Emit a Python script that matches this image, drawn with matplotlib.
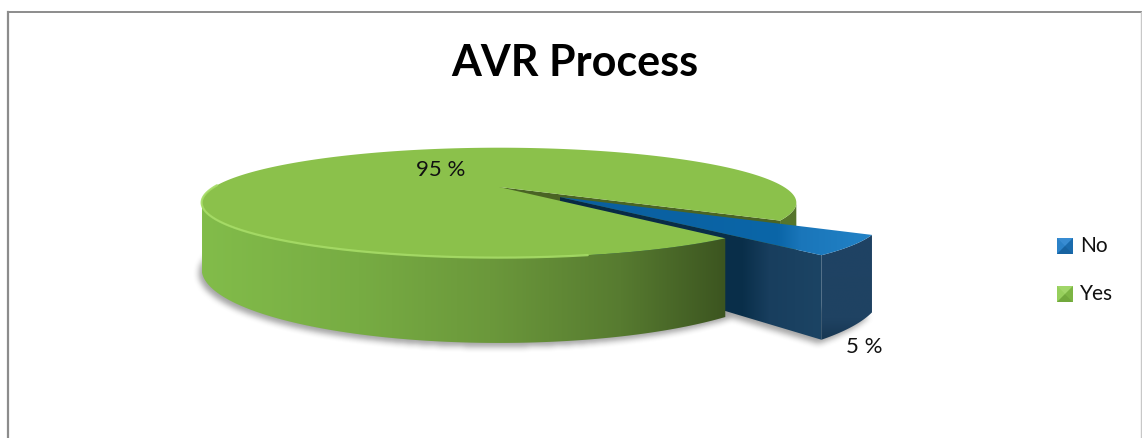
import numpy as np
import matplotlib
matplotlib.use('Agg')
import matplotlib.pyplot as plt
from matplotlib.patches import Polygon
from matplotlib.path import Path
from matplotlib.colors import to_rgb

labels = ['No', 'Yes']
values = [5, 95]
pct_labels = ['5 %', '95 %']
title = 'AVR Process'

W, HT = 1142, 438
plt.rcParams['font.family'] = ['Lato', 'DejaVu Sans']

fig = plt.figure(figsize=(W / 100, HT / 100), dpi=100)
ax = fig.add_axes([0, 0, 1, 1])

# pie geometry (pixel space, perspective tilt)
CX, CY = 499.0, 187.0
R, A, B = 285.0, 50.5, 0.285
DEPTH = 61.0
START = 34.0
EXPLODE = [0.275, 0.0]
T_EXT = np.degrees(np.arcsin(B))   # angle of the widest point of the rim


def proj(X, Y, d=0.0):
    w = 1.0 - B * Y
    return CX + R * X / w, CY + (A * Y + DEPTH * d) / w


def rim(t0, t1, d=0.0, off=(0.0, 0.0), n=200):
    t = np.radians(np.linspace(t0, t1, n))
    x, y = proj(np.cos(t) + off[0], np.sin(t) + off[1], d)
    return np.column_stack([x, y])


def pt(X, Y, d=0.0):
    return np.array([proj(X, Y, d)])


def grad_fill(verts, stops, z, horizontal=True):
    patch = Polygon(verts, closed=True, facecolor='none', edgecolor='none', zorder=z)
    ax.add_patch(patch)
    x0, x1 = verts[:, 0].min(), verts[:, 0].max()
    y0, y1 = verts[:, 1].min(), verts[:, 1].max()
    pos = np.linspace(0, 1, 256)
    sp = np.array([s[0] for s in stops])
    cols = np.array([to_rgb(s[1]) for s in stops])
    rgb = np.column_stack([np.interp(pos, sp, cols[:, i]) for i in range(3)])
    if horizontal:
        img = rgb[np.newaxis, :, :]
    else:
        img = rgb[:, np.newaxis, :]
    im = ax.imshow(img, extent=[x0, x1, y1, y0], aspect='auto',
                   interpolation='bilinear', zorder=z)
    im.set_clip_path(patch)


def flat(verts, color, z, **kw):
    ax.add_patch(Polygon(verts, closed=True, facecolor=color, edgecolor='none',
                         zorder=z, **kw))


# slice angles
spans = np.array(values) / np.sum(values) * 360.0
t_no0, t_no1 = START, START + spans[0]
t_yes0, t_yes1 = t_no1, t_no1 + spans[1]
mid = np.radians((t_no0 + t_no1) / 2)
off = (EXPLODE[0] * np.cos(mid), EXPLODE[0] * np.sin(mid))

# soft shadow under the pie
bottom = rim(0, 360, 1.0)
blue_bottom = np.vstack([pt(off[0], off[1], 1.0), rim(t_no0, t_no1, 1.0, off)])
gx, gy = np.meshgrid(np.arange(W) + 0.5, np.arange(HT) + 0.5)
pts = np.column_stack([gx.ravel() + 3, gy.ravel() - 4])
mask = (Path(bottom).contains_points(pts) | Path(blue_bottom).contains_points(pts))
mask = mask.reshape(HT, W).astype(float)


def box_blur(a, r):
    for axis in (0, 1):
        c = np.cumsum(np.pad(a, [(r + 1, r) if i == axis else (0, 0) for i in range(2)],
                             mode='edge'), axis=axis)
        if axis == 0:
            a = (c[2 * r + 1:, :] - c[:-2 * r - 1, :]) / (2 * r + 1)
        else:
            a = (c[:, 2 * r + 1:] - c[:, :-2 * r - 1]) / (2 * r + 1)
    return a


soft = box_blur(box_blur(mask, 3), 3)
shadow = np.zeros((HT, W, 4))
shadow[..., :3] = 0.35
shadow[..., 3] = soft * 0.55
ax.imshow(shadow, extent=[0, W, HT, 0], aspect='auto', zorder=1)

# green: hidden-side faces seen through the gap
g_face = np.vstack([pt(0, 0), rim(t_yes1, t_yes1, 0, n=1), rim(t_yes1, t_yes1, 1, n=1), pt(0, 0, 1)])
flat(g_face, '#4a6424', 2)
g_wall_r = np.vstack([rim(360 + T_EXT, t_yes1), rim(t_yes1, 360 + T_EXT, 1.0)])
flat(g_wall_r, '#56752b', 2)

# blue slice (exploded)
b_wall = np.vstack([rim(t_no0, t_no1, 0, off), rim(t_no1, t_no0, 1, off)])
grad_fill(b_wall, [(0, '#1f4364'), (0.8, '#1f4262'), (1, '#173752')], 3, horizontal=False)
b_face = np.vstack([pt(off[0], off[1]), rim(t_no1, t_no1, 0, off, n=1),
                    rim(t_no1, t_no1, 1, off, n=1), pt(off[0], off[1], 1)])
grad_fill(b_face, [(0, '#082a44'), (0.7, '#0a2f4a'), (0.8, '#183e5e'), (1, '#1c4464')], 3)
b_top = np.vstack([pt(off[0], off[1]), rim(t_no0, t_no1, 0, off)])
grad_fill(b_top, [(0, '#0a5e9e'), (0.7, '#0b66a8'), (0.77, '#1a76ba'), (1, '#2282c6')], 4)

# green front wall and top
g_wall = np.vstack([rim(t_yes0, 180 - T_EXT), rim(180 - T_EXT, t_yes0, 1.0)])
grad_fill(g_wall, [(0, '#82bc4a'), (0.3, '#77ac43'), (0.55, '#6b983b'),
                   (0.8, '#577b30'), (1, '#3c5520')], 5)
g_top = np.vstack([pt(0, 0), rim(t_yes0, t_yes1, n=400)])
flat(g_top, '#8bc14b', 6)
hl = rim(t_yes0 + 25, 182)
ax.plot(hl[:, 0], hl[:, 1], color='#a6dc66', lw=1.6, alpha=0.9, zorder=7,
        solid_capstyle='round')

# value labels
ax.text(441, 170, pct_labels[1], fontsize=16, ha='center', va='center',
        color='#111111', zorder=8)
ax.text(864, 347, pct_labels[0], fontsize=16, ha='center', va='center',
        color='#111111', zorder=8)

# title
ax.text(575, 63, title, fontsize=31, fontweight='bold', ha='center',
        va='center', color='#000000', zorder=8)

# legend with bevelled swatches
swatch = {'No': ('#1f78be', '#4a9be0', '#12558e'),
          'Yes': ('#8cc850', '#b0e07a', '#5f9330')}
for lab, yc in zip(labels, [246, 294]):
    base, light, dark = swatch[lab]
    x0, x1, y0, y1 = 1057, 1073, yc - 8, yc + 8
    cxs, cys = (x0 + x1) / 2, (y0 + y1) / 2
    flat(np.array([[x0, y0], [x1, y0], [x1, y1], [x0, y1]]), base, 8)
    flat(np.array([[x0, y0], [x1, y0], [cxs, cys]]), light, 8, alpha=0.6)
    flat(np.array([[x0, y0], [x0, y1], [cxs, cys]]), light, 8, alpha=0.3)
    flat(np.array([[x1, y0], [x1, y1], [cxs, cys]]), dark, 8, alpha=0.35)
    flat(np.array([[x0, y1], [x1, y1], [cxs, cys]]), dark, 8, alpha=0.6)
    ax.text(1080, yc, lab, fontsize=15, ha='left', va='center', color='#111111', zorder=8)

# chart frame
ax.plot([8, 8], [11.5, HT + 2], color='#8c8c8c', lw=1.6, zorder=9)
ax.plot([8, 1141], [11.5, 11.5], color='#8c8c8c', lw=1.4, zorder=9)
ax.plot([1141, 1141], [11.5, HT + 2], color='#c8c8c8', lw=1.0, zorder=9)

ax.set_xlim(0, W)
ax.set_ylim(HT, 0)
ax.axis('off')
fig.savefig('out.png', dpi=100)
